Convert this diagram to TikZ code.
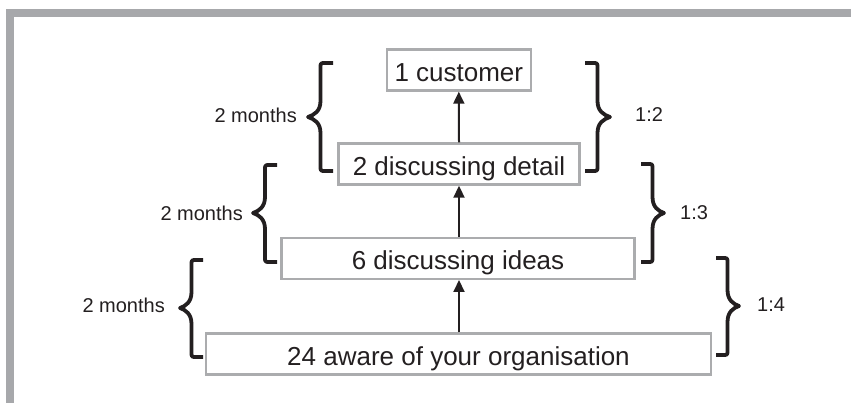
\documentclass[tikz,border=0pt]{standalone}
\usepackage{fontspec}
\setmainfont{Liberation Sans}
\usetikzlibrary{arrows.meta,calc}

\definecolor{framegray}{HTML}{A7A8AB}
\definecolor{boxgray}{HTML}{ABACAE}
\definecolor{ink}{HTML}{231F20}

% Curly brace: #1 x of the hook ends, #2 x of the tip, #3 top y, #4 middle y, #5 bottom y
\newcommand\curlbrace[5]{%
  \draw[curlstyle]
    (#1,#3) -- ({(#1+#2)/2+0.2*(#1-#2)},#3)
    .. controls ({(#1+#2)/2},#3) .. ({(#1+#2)/2},#3+5)
    -- ({(#1+#2)/2},#4-16)
    .. controls ({(#1+#2)/2},#4-6) and ({#2+0.25*(#1-#2)},#4-2) .. (#2,#4)
    .. controls ({#2+0.25*(#1-#2)},#4+2) and ({(#1+#2)/2},#4+6) .. ({(#1+#2)/2},#4+16)
    -- ({(#1+#2)/2},#5-5)
    .. controls ({(#1+#2)/2},#5) .. ({(#1+#2)/2+0.2*(#1-#2)},#5)
    -- (#1,#5);}

\begin{document}
\begin{tikzpicture}[x=1pt,y=-1pt,
  stage/.style={draw=boxgray, line width=2.4pt, text=ink, inner sep=0pt,
    minimum height=41pt, font=\fontsize{26}{28}\selectfont,
    text height=24pt, text depth=0.6pt},
  note/.style={text=ink, inner sep=0pt, font=\fontsize{20}{22}\selectfont},
  flow/.style={ink, line width=2pt, -{Triangle[length=12pt,width=11pt]}},
  curlstyle/.style={ink, line width=3.8pt, line cap=butt, line join=round}]

  \useasboundingbox (0,0) rectangle (851,403);

  % grey frame along the top and left
  \fill[framegray] (6,9) rectangle (851,16.7);
  \fill[framegray] (6,9) rectangle (14.3,403);

  % stages of the funnel
  \node[stage, minimum width=144pt] (b1) at (458.8,70) {1 customer};
  \node[stage, minimum width=241pt] (b2) at (459.0,164) {2 discussing detail};
  \node[stage, minimum width=353pt] (b3) at (458.0,258.3) {6 discussing ideas};
  \node[stage, minimum width=505pt] (b4) at (458.5,354) {24 aware of your organisation};

  \draw[flow] (b2.north) -- (b1.south);
  \draw[flow] (b3.north -| b2.south) -- (b2.south);
  \draw[flow] (b4.north -| b2.south) -- (b3.south -| b2.south);

  % time spans on the left
  \curlbrace{333}{308}{63}{117}{171}
  \curlbrace{277}{253}{165}{213}{262}
  \curlbrace{203}{180}{260}{308}{357}
  \node[note, anchor=east] (t1) at (297,115) {2 months};
  \node[note, anchor=east] (t2) at (243,213) {2 months};
  \node[note, anchor=east] (t3) at (165,305) {2 months};

  % conversion ratios on the right
  \curlbrace{585}{610}{63}{117}{171}
  \curlbrace{641}{664}{164}{213}{262}
  \curlbrace{716}{739}{258}{306}{355}
  \node[note, anchor=west] (r1) at (635,115) {1:2};
  \node[note, anchor=west] (r2) at (680,213) {1:3};
  \node[note, anchor=west] (r3) at (757,305) {1:4};
\end{tikzpicture}
\end{document}
